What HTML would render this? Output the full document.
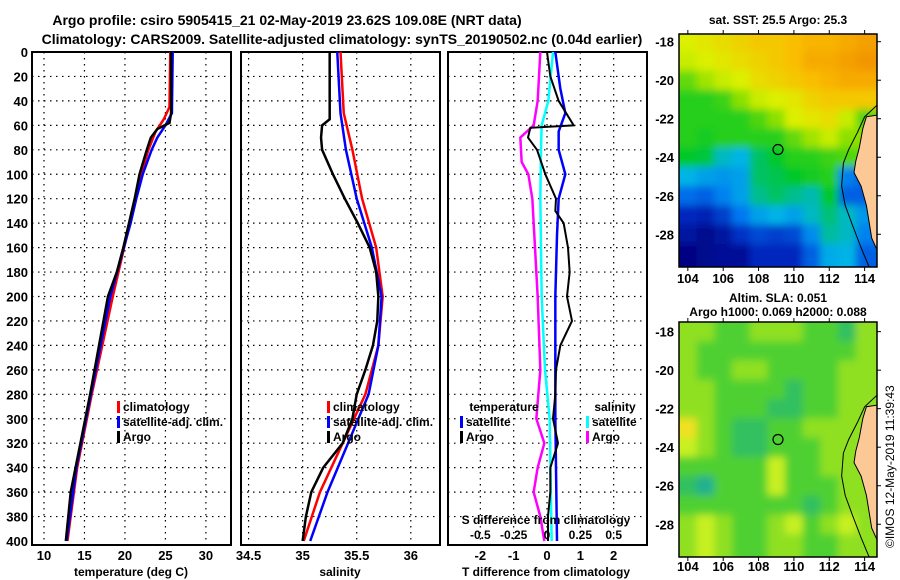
<!DOCTYPE html>
<html><head><meta charset="utf-8"><style>
body{margin:0;background:#fff}
svg{display:block;font-family:"Liberation Sans",sans-serif;font-weight:bold}
</style></head><body>
<svg id="c" width="900" height="580" viewBox="0 0 900 580">
<defs><filter id="bl" x="-20%" y="-20%" width="140%" height="140%"><feGaussianBlur stdDeviation="4"/></filter></defs>
<text x="287" y="25" font-size="14" text-anchor="middle">Argo profile: csiro 5905415_21 02-May-2019 23.62S 109.08E (NRT data)</text>
<text x="342" y="44" font-size="14" text-anchor="middle">Climatology: CARS2009. Satellite-adjusted climatology: synTS_20190502.nc (0.04d earlier)</text>
<text x="778" y="24" font-size="12" text-anchor="middle">sat. SST: 25.5 Argo: 25.3</text>
<text x="778" y="302" font-size="12" text-anchor="middle">Altim. SLA: 0.051</text>
<text x="778" y="316" font-size="12" text-anchor="middle">Argo h1000: 0.069 h2000: 0.088</text>
<text transform="translate(894,548) rotate(-90)" font-size="12" font-weight="normal">©IMOS 12-May-2019 11:39:43</text>
</svg>
<script>
// ---- data ----
const depthTicks=[0,20,40,60,80,100,120,140,160,180,200,220,240,260,280,300,320,340,360,380,400];
const tempTicks=[10,15,20,25,30];
const salTicks=[34.5,35,35.5,36];
const tdiffTicks=[-2,-1,0,1,2];
const sdiffTicks=[-0.5,-0.25,0,0.25,0.5];
const sdiffTickLabels=["-0.5","-0.25","0","0.25","0.5"];
const argoTdepth=[0,50,58,63,70,80,100,120,140,160,180,200,240,280,320,340,360,400];
const argoT=[25.7,25.7,25.5,24.0,23.2,22.7,21.8,21.2,20.5,19.8,19.0,17.9,16.8,15.7,14.5,13.9,13.3,12.7];
const climTdepth=[0,45,55,65,80,100,120,140,200,280,340,400];
const climT=[25.6,25.5,24.8,23.8,22.9,22.0,21.3,20.6,18.5,15.9,14.1,12.9];
const satTdepth=[0,50,60,70,80,100,120,140,200,280,340,400];
const satT=[25.9,25.8,25.0,24.0,23.3,22.2,21.4,20.7,18.2,15.8,14.0,12.8];
const argoSdepth=[0,55,60,70,80,100,120,140,160,180,200,220,240,260,280,300,320,340,360,380,400];
const argoS=[35.25,35.25,35.18,35.17,35.18,35.28,35.39,35.51,35.62,35.68,35.70,35.69,35.65,35.58,35.50,35.46,35.37,35.19,35.08,35.03,35.00];
const climSdepth=[0,50,80,120,160,200,240,280,320,360,400];
const climS=[35.35,35.38,35.46,35.55,35.68,35.74,35.70,35.58,35.37,35.16,35.01];
const satSdepth=[0,50,80,120,160,200,240,280,320,360,400];
const satS=[35.32,35.35,35.40,35.50,35.64,35.73,35.70,35.61,35.42,35.23,35.07];
const dTsatDepth=[0,30,50,65,80,100,120,150,200,300,400];
const dTsat=[0.25,0.4,0.55,0.35,0.35,0.55,0.35,0.3,0.25,0.25,0.3];
const dTargoDepth=[0,20,40,60,62,70,80,100,120,130,140,160,180,200,220,240,260,280,300,320,340,360,380,400];
const dTargo=[0.0,0.1,0.35,0.8,-0.5,-0.57,-0.3,-0.05,0.27,0.25,0.5,0.63,0.68,0.6,0.75,0.4,0.27,0.25,0.18,0.33,0.1,0.1,0.03,0.03];
const dSargoDepth=[0,40,60,70,90,100,120,160,200,260,300,320,340,360,380,400];
const dSargo=[-0.05,-0.07,-0.1,-0.2,-0.19,-0.14,-0.11,-0.09,-0.07,-0.05,-0.08,-0.02,-0.07,-0.1,-0.05,-0.02];
const dSsatDepth=[0,40,60,80,120,200,260,300,400];
const dSsat=[0.045,0.01,-0.04,-0.045,-0.05,-0.04,-0.015,0.02,0.035];
const lonTicks=[104,106,108,110,112,114];
const latTicks=[-18,-20,-22,-24,-26,-28];
const gridLats=[-18,-19,-20,-21,-22,-23,-24,-25,-26,-27,-28,-29];
const gridLons=[104,105,106,107,108,109,110,111,112,113,114];
const sst=[
[24.9,25.0,25.1,25.2,25.3,25.3,25.4,25.5,25.5,25.6,25.7],
[24.8,24.9,25.0,25.1,25.2,25.3,25.4,25.6,25.6,25.7,25.8],
[24.3,24.6,24.8,24.9,25.1,25.2,25.3,25.4,25.5,25.6,25.6],
[24.0,24.0,24.1,24.5,24.8,24.9,25.0,25.2,25.3,25.3,25.3],
[24.0,24.0,24.0,24.0,24.2,24.5,24.9,25.0,25.1,24.8,24.2],
[24.0,23.9,24.0,24.0,24.0,24.0,24.3,24.6,24.8,24.5,24.5],
[23.8,23.7,23.0,22.8,23.5,23.8,24.0,24.0,24.1,24.2,24.3],
[22.8,22.6,22.5,22.6,23.5,23.6,23.8,23.9,24.0,22.3,22.0],
[22.1,22.0,22.3,22.6,23.3,23.5,23.3,23.1,23.8,22.0,22.0],
[21.5,21.4,21.7,22.2,22.6,22.8,22.6,23.0,23.4,23.0,22.5],
[21.2,21.0,21.2,21.6,21.8,21.7,21.8,22.4,23.2,23.0,22.3],
[20.9,21.0,21.1,21.1,21.5,21.5,21.5,22.0,22.7,22.8,22.0]];
const sla=[
[3,3,2,2,3,3,3,2,2,1,3],[3,2,2,2,2,2,2,2,2,2,3],[3,2,2,3,3,2,2,2,2,3,3],
[3,3,2,2,2,2,1,2,2,3,3],[3,3,2,2,2,1,1,2,2,3,3],[5,3,2,1,1,2,2,3,3,3,3],
[4,3,2,1,1,2,2,2,3,3,3],[2,2,2,2,2,4,2,2,3,3,3],[1,0,2,2,2,4,2,2,2,3,3],
[2,2,2,2,2,2,2,1,2,3,3],[3,4,3,2,2,3,4,2,3,4,3],[3,4,3,2,2,3,3,2,2,3,3]];
const landLon=[114.8,114.1,113.9,113.7,113.5,113.4,113.8,114.1,114.4,114.8];
const landLat=[-21.8,-21.9,-22.5,-23.5,-24.2,-24.8,-25.5,-26.5,-28.2,-29.0];
const isoLon=[114.7,114.0,113.6,113.1,112.8,112.7,112.9,113.3,113.8,114.3];
const isoLat=[-21.3,-21.9,-22.7,-23.6,-24.3,-25.5,-26.5,-27.5,-28.7,-29.8];
const argoPos=[109.1,-23.6];

// ---- drawing ----
const S=document.getElementById('c'),NS='http://www.w3.org/2000/svg';
function mk(t,a,p){const e=document.createElementNS(NS,t);for(const k in a)e.setAttribute(k,a[k]);(p||S).appendChild(e);return e;}
const Y0=52,Y1=541,YF=545;const yD=d=>Y0+(Y1-Y0)*d/400;
function panel(name,x0,x1,v0,v1,ticks,labels){
  const g=mk('g',{});
  
  
  const sx=v=>x0+(x1-x0)*(v-v0)/(v1-v0);
  depthTicks.forEach(d=>{if(d>0&&d<400){const l=mk('line',{x1:x0,x2:x1,y1:yD(d),y2:yD(d),stroke:'#000','stroke-width':1.2,'stroke-dasharray':'1.5 4.5'},g);}});
  ticks.forEach((v,i)=>{const l=mk('line',{x1:sx(v),x2:sx(v),y1:Y0,y2:YF,stroke:'#000','stroke-width':1.2,'stroke-dasharray':'1.5 4.5'},g);
    if(labels){const t=mk('text',{x:sx(v),y:560,'font-size':13,'text-anchor':'middle'},g);t.textContent=labels[i];}});
  const r=mk('rect',{x:x0,y:Y0,width:x1-x0,height:YF-Y0,fill:'none',stroke:'#000','stroke-width':2},g);
  
  return sx;
}
function line(sx,ds,vs,col,name,w){
  const p=mk('polyline',{points:ds.map((d,i)=>sx(vs[i])+','+yD(d)).join(' '),fill:'none',stroke:col,'stroke-width':w||2.5});
  
  
}
function txt(x,y,s,sz,anc,name,col){const t=mk('text',{x:x,y:y,'font-size':sz,'text-anchor':anc||'start',fill:col||'#000'});t.textContent=s;
  
  return t;}
function leg(x,y,col,s,name){const r=mk('rect',{x:x,y:y-10,width:3,height:12,fill:col});
  
  
  txt(x+6,y,s,12,'start',name);}

// panel 1
const sT=panel('temperature-panel',32,231,8.52,33.1,tempTicks,tempTicks.map(String));
depthTicks.forEach(d=>txt(28,yD(d)+5,String(d),13,'end','depth-tick-label'));
line(sT,climTdepth,climT,'#f00','climatology-temperature-line');
line(sT,satTdepth,satT,'#00f','satellite-temperature-line');
line(sT,argoTdepth,argoT,'#000','argo-temperature-line');
leg(117,411,'#f00','climatology','legend-climatology');
leg(117,426,'#00f','satellite-adj. clim.','legend-satellite-adj');
leg(117,441,'#000','Argo','legend-argo');
txt(131,576,'temperature (deg C)',12,'middle','temperature-axis-title');
// panel 2
const sS=panel('salinity-panel',241,440,34.43,36.27,salTicks,salTicks.map(String));
line(sS,climSdepth,climS,'#f00','climatology-salinity-line');
line(sS,satSdepth,satS,'#00f','satellite-salinity-line');
line(sS,argoSdepth,argoS,'#000','argo-salinity-line');
leg(327,411,'#f00','climatology','legend-climatology-s');
leg(327,426,'#00f','satellite-adj. clim.','legend-satellite-adj-s');
leg(327,441,'#000','Argo','legend-argo-s');
txt(340,576,'salinity',12,'middle','salinity-axis-title');
// panel 3
const sD=panel('difference-panel',448,647,-2.97,3.0,tdiffTicks,tdiffTicks.map(String));
const sDs=v=>sD(v*4);
line(sDs,dSargoDepth,dSargo,'#f0f','argo-salinity-diff-line');
line(sDs,dSsatDepth,dSsat,'#0ff','satellite-salinity-diff-line');
line(sD,dTsatDepth,dTsat,'#00f','satellite-temperature-diff-line');
line(sD,dTargoDepth,dTargo,'#000','argo-temperature-diff-line',2);
txt(504,411,'temperature',12,'middle','legend-temperature-heading');
leg(460,426,'#00f','satellite','legend-t-satellite');
leg(460,441,'#000','Argo','legend-t-argo');
txt(615,411,'salinity',12,'middle','legend-salinity-heading');
leg(586,426,'#0ff','satellite','legend-s-satellite');
leg(586,441,'#f0f','Argo','legend-s-argo');
txt(546,524,'S difference from climatology',12,'middle','s-diff-axis-title');
sdiffTicks.forEach((v,i)=>txt(sDs(v),539,sdiffTickLabels[i],12,'middle','s-diff-tick-label'));
txt(546,576,'T difference from climatology',12,'middle','t-diff-axis-title');

// maps
function map(name,y0,y1,latTop,latBot,colorFn,grid,lonLabY){
  const x0=679,x1=877,lonL=103.5,lonR=114.7;
  const px=l=>x0+(x1-x0)*(l-lonL)/(lonR-lonL), py=l=>y0+(y1-y0)*(latTop-l)/(latTop-latBot);
  const g=mk('g',{});
  
  
  const cid=name+'-clip';const cp=mk('clipPath',{id:cid},g);mk('rect',{x:x0,y:y0,width:x1-x0,height:y1-y0},cp);
  const gi=mk('g',{'clip-path':'url(#'+cid+')'},g);
  const gc=mk('g',{filter:'url(#bl)'},gi);
  const nr=grid.length,nc=grid[0].length;
  grid.forEach((row,r)=>row.forEach((v,c)=>{
    const lo=gridLons[c],la=gridLats[r];
    let a=px(lo-0.5),b=px(lo+0.5),t=py(la+0.5),u=py(la-0.5);
    if(c===0)a-=25; if(c===nc-1)b+=25; if(r===0)t-=25; if(r===nr-1)u+=25;
    const e=mk('rect',{x:a,y:t,width:b-a+0.5,height:u-t+0.5,fill:colorFn(v)},gc);
    
    
  }));
  const land=mk('polygon',{points:landLon.map((l,i)=>px(l)+','+py(landLat[i])).join(' ')+' '+px(115)+','+py(-29.0)+' '+px(115)+','+py(-21.8),fill:'#fbc896',stroke:'#000','stroke-width':1},gi);
  
  const iso=mk('polyline',{points:isoLon.map((l,i)=>px(l)+','+py(isoLat[i])).join(' '),fill:'none',stroke:'#000','stroke-width':1},gi);
  
  const m=mk('circle',{cx:px(argoPos[0]),cy:py(argoPos[1]),r:5,fill:'none',stroke:'#000','stroke-width':1.2},g);
  
  const f=mk('rect',{x:x0,y:y0,width:x1-x0,height:y1-y0,fill:'none',stroke:'#000','stroke-width':1.5},g);
  
  lonTicks.forEach(l=>{txt(px(l),lonLabY,String(l),13,'middle','lon-tick-label');
    mk('line',{x1:px(l),x2:px(l),y1:y0,y2:y0-4,stroke:'#000'},g);mk('line',{x1:px(l),x2:px(l),y1:y1,y2:y1+4,stroke:'#000'},g);});
  latTicks.forEach(l=>{txt(674,py(l)+5,String(l),13,'end','lat-tick-label');
    mk('line',{x1:x1,x2:x1+4,y1:py(l),y2:py(l),stroke:'#000'},g);});
}
function sstColor(v){const st=[[20.8,[0,0,120]],[21.5,[0,40,190]],[22.2,[0,120,240]],[22.8,[0,180,230]],[23.3,[0,190,140]],[23.8,[0,200,40]],[24.4,[120,220,0]],[24.9,[220,240,0]],[25.4,[250,190,0]],[25.9,[240,140,0]]];
  if(v<=st[0][0])return 'rgb('+st[0][1]+')';for(let i=1;i<st.length;i++){if(v<=st[i][0]){const f=(v-st[i-1][0])/(st[i][0]-st[i-1][0]);return 'rgb('+st[i][1].map((c,k)=>Math.round(st[i-1][1][k]+f*(c-st[i-1][1][k]))).join(',')+')';}}return 'rgb('+st[st.length-1][1]+')';}
const slaCols=['#20b090','#30c060','#50d030','#90e020','#c8f020','#f0e020'];
map('sst-map',34,267,-17.6,-29.7,sstColor,sst,283);
map('sla-map',322,557,-17.5,-29.7,v=>slaCols[v],sla,571);
</script>
</body></html>
